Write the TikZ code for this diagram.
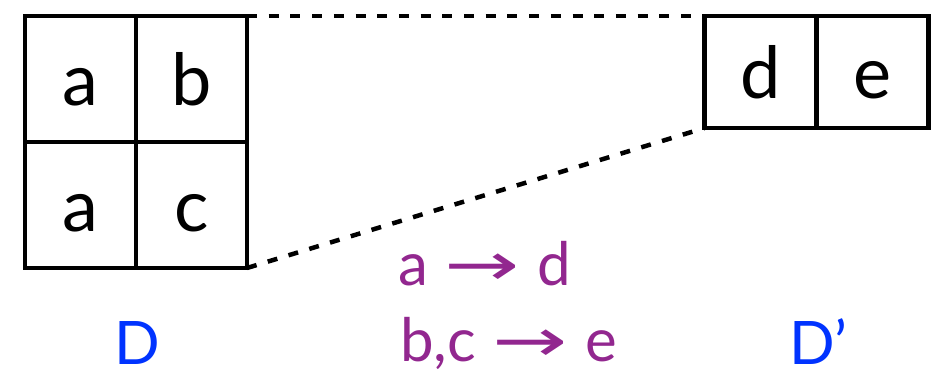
\documentclass[tikz,border=0pt]{standalone}
\usepackage{fontspec}
\setmainfont{Lato}
\newfontfamily\arrowfont{DejaVu Sans}
\usetikzlibrary{positioning}
\definecolor{mapcolor}{RGB}{146,39,143}
\definecolor{tablecolor}{RGB}{0,51,255}
\newcommand{\mapsarrow}{\hspace{16pt}\scalebox{1.5}[1.0]{\arrowfont →}\hspace{18pt}}

\begin{document}
\begin{tikzpicture}[x=1pt, y=-1pt, line width=4.5pt,
    cellbox/.style={draw, inner sep=0pt, outer sep=0pt, minimum width=111pt, minimum height=126pt,
      text height=52pt, text depth=0pt, font=\fontsize{72}{72}\selectfont},
    smallcell/.style={cellbox, minimum width=112pt, minimum height=112pt},
    label/.style={inner sep=0pt, font=\fontsize{60}{60}\selectfont}]
  \useasboundingbox (0,0) rectangle (941,370);
  % table D
  \node[cellbox] (a1) at (80.5,79) {a};
  \node[cellbox, right=0pt of a1] (b1) {b};
  \node[cellbox, below=0pt of a1] (a2) {a};
  \node[cellbox, right=0pt of a2] (c2) {c};
  % table D'
  \node[smallcell] (d1) at (760.5,72) {d};
  \node[smallcell, right=0pt of d1] (e1) {e};
  % projection lines
  \draw[dash pattern=on 10pt off 11.7pt] (b1.north east) -- (d1.north west);
  \draw[dash pattern=on 10pt off 11.7pt] (c2.south east) -- (d1.south west);
  % labels
  \node[label, text=tablecolor, anchor=base] (lD) at (137.5,364) {D};
  \node[label, text=tablecolor, anchor=base west] (lDp) at (787,364) {D’};
  \node[label, text=mapcolor, anchor=base west] (m1) at (396,285) {a\mapsarrow d};
  \node[label, text=mapcolor, anchor=base west] (m2) at (398,361) {b,c\mapsarrow e};
\end{tikzpicture}
\end{document}
